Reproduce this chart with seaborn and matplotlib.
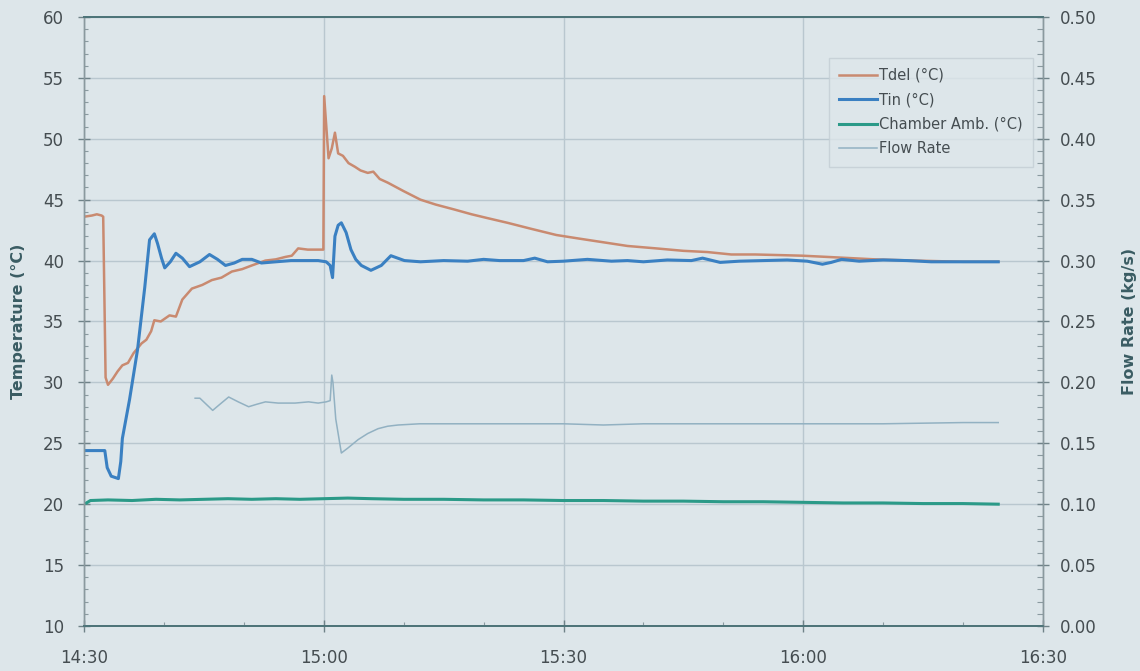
import matplotlib
matplotlib.use("Agg")
import matplotlib.pyplot as plt
from matplotlib.ticker import MultipleLocator, FixedLocator, FormatStrFormatter
import seaborn as sns

# Time axis: minutes after 14:30
tick_minutes = [0, 30, 60, 90, 120]
tick_labels = ["14:30", "15:00", "15:30", "16:00", "16:30"]

# Delivered temperature (°C)
tdel_min = [0.0, 1.0, 1.6, 2.2, 2.4, 2.7, 3.0, 3.6, 4.2, 4.8, 5.5, 6.2, 7.2, 7.8,
            8.4, 8.8, 9.6, 10.7, 11.5, 12.3, 13.5, 14.8, 16.0, 17.2, 18.5, 19.8,
            21.0, 22.7, 24.0, 25.2, 26.0, 26.8, 28.0, 29.95, 30.05, 30.6, 31.0,
            31.4, 31.8, 32.4, 33.1, 33.9, 34.6, 35.5, 36.2, 37.0, 38.0, 40.0,
            42.1, 44.0, 46.3, 48.5, 50.4, 53.0, 56.0, 59.1, 62.0, 65.0, 68.0,
            71.6, 75.0, 78.0, 81.0, 84.0, 87.0, 89.9, 93.0, 96.0, 99.0, 101.4,
            104.0, 107.0, 110.0, 114.4]
tdel = [43.6, 43.7, 43.8, 43.7, 43.6, 30.4, 29.8, 30.3, 30.9, 31.4, 31.6, 32.4,
        33.2, 33.5, 34.2, 35.1, 35.0, 35.5, 35.4, 36.8, 37.7, 38.0, 38.4, 38.6,
        39.1, 39.3, 39.6, 40.0, 40.1, 40.3, 40.4, 41.0, 40.9, 40.9, 53.5, 48.4,
        49.2, 50.5, 48.8, 48.6, 48.0, 47.7, 47.4, 47.2, 47.3, 46.7, 46.4, 45.7,
        45.0, 44.6, 44.2, 43.8, 43.5, 43.1, 42.6, 42.1, 41.8, 41.5, 41.2, 41.0,
        40.8, 40.7, 40.5, 40.5, 40.45, 40.4, 40.3, 40.2, 40.1, 40.05, 40.0,
        39.95, 39.9, 39.9]

# Inlet temperature (°C)
tin_min = [0.0, 1.5, 2.6, 2.9, 3.4, 4.3, 4.6, 4.8, 5.7, 6.7, 7.6, 8.2, 8.8, 9.2,
           9.7, 10.1, 10.8, 11.5, 12.3, 13.2, 14.5, 15.7, 16.7, 17.7, 18.8,
           19.8, 21.0, 22.2, 24.0, 25.9, 27.5, 29.3, 30.3, 30.8, 31.1, 31.4,
           31.8, 32.2, 32.8, 33.4, 34.0, 34.7, 35.9, 37.2, 38.4, 40.1, 42.1,
           45.0, 48.0, 50.0, 52.0, 55.0, 56.4, 58.0, 60.0, 63.0, 66.0, 68.0,
           70.0, 73.0, 76.0, 77.4, 79.6, 82.0, 85.0, 88.0, 90.5, 92.4, 93.5,
           94.8, 97.0, 100.0, 103.0, 106.0, 110.0, 114.4]
tin = [24.4, 24.4, 24.4, 23.0, 22.3, 22.1, 23.5, 25.4, 28.6, 32.7, 37.8, 41.7,
       42.2, 41.4, 40.2, 39.4, 39.9, 40.6, 40.2, 39.5, 39.9, 40.5, 40.1, 39.6,
       39.8, 40.1, 40.1, 39.8, 39.9, 40.0, 40.0, 40.0, 39.9, 39.6, 38.6, 42.0,
       42.9, 43.1, 42.3, 40.9, 40.1, 39.6, 39.2, 39.6, 40.4, 40.0, 39.9, 40.0,
       39.95, 40.1, 40.0, 40.0, 40.2, 39.9, 39.95, 40.1, 39.95, 40.0, 39.9,
       40.05, 40.0, 40.2, 39.85, 39.95, 40.0, 40.05, 39.95, 39.7, 39.85, 40.1,
       39.95, 40.05, 40.0, 39.9, 39.9, 39.9]

# Chamber ambient temperature (°C)
ch_min = [0.3, 0.8, 3, 6, 9, 12, 15, 18, 21, 24, 27, 30, 33, 36, 40, 45, 50, 55,
          60, 65, 70, 75, 80, 85, 90, 95, 100, 105, 110, 114.4]
ch = [20.1, 20.3, 20.35, 20.3, 20.4, 20.35, 20.4, 20.45, 20.4, 20.45, 20.4,
      20.45, 20.5, 20.45, 20.4, 20.4, 20.35, 20.35, 20.3, 20.3, 20.25, 20.25,
      20.2, 20.2, 20.15, 20.1, 20.1, 20.05, 20.05, 20.0]

# Flow rate (kg/s)
fl_min = [13.9, 14.5, 15.3, 16.1, 17.0, 18.1, 19.3, 20.6, 21.6, 22.7, 24.3,
          26.4, 28.1, 29.3, 30.3, 30.8, 31.0, 31.15, 31.5, 32.2, 33.0, 34.3,
          35.5, 36.8, 38.0, 39.3, 42.0, 48.0, 55.0, 60.0, 65.0, 70.0, 80.0,
          90.0, 100.0, 110.0, 114.4]
fl = [0.187, 0.187, 0.182, 0.177, 0.182, 0.188, 0.184, 0.180, 0.182, 0.184,
      0.183, 0.183, 0.184, 0.183, 0.184, 0.185, 0.206, 0.200, 0.170, 0.142,
      0.146, 0.153, 0.158, 0.162, 0.164, 0.165, 0.166, 0.166, 0.166, 0.166,
      0.165, 0.166, 0.166, 0.166, 0.166, 0.167, 0.167]

BG = "#dde6ea"
TXT = "#454d51"
LBL = "#3a5c63"
GRID = "#b9c7cf"

plt.rcParams["font.family"] = ["DejaVu Sans"]

fig = plt.figure(figsize=(11.4, 6.71), dpi=100, facecolor=BG)
ax = fig.add_axes([0.0737, 0.0671, 0.8412, 0.9076])
ax.set_facecolor(BG)
ax2 = ax.twinx()

sns.lineplot(x=tdel_min, y=tdel, ax=ax, color="#c98a70", lw=1.8,
             label="Tdel (°C)")
sns.lineplot(x=tin_min, y=tin, ax=ax, color="#3a80c2", lw=2.2,
             label="Tin (°C)")
sns.lineplot(x=ch_min, y=ch, ax=ax, color="#2b9a88", lw=2.2,
             label="Chamber Amb. (°C)")
sns.lineplot(x=fl_min, y=fl, ax=ax2, color="#92b1c2", lw=1.1,
             label="Flow Rate")

ax.set_xlim(0, 120)
ax.set_ylim(10, 60)
ax2.set_ylim(0, 0.5)

ax.xaxis.set_major_locator(FixedLocator(tick_minutes))
ax.set_xticklabels(tick_labels)
ax.xaxis.set_minor_locator(MultipleLocator(10))
ax.yaxis.set_major_locator(MultipleLocator(5))
ax.yaxis.set_minor_locator(MultipleLocator(1))
ax2.yaxis.set_major_locator(MultipleLocator(0.05))
ax2.yaxis.set_minor_locator(MultipleLocator(0.01))
ax2.yaxis.set_major_formatter(FormatStrFormatter("%.2f"))

ax.grid(True, which="major", color=GRID, lw=1.0)
ax.set_axisbelow(True)

ax.tick_params(axis="both", which="major", direction="inout", length=9,
               width=1, color="#6f8288", labelsize=12, labelcolor=TXT)
ax.tick_params(axis="both", which="minor", direction="in", length=3,
               width=0.8, color="#8a9aa0")
ax.tick_params(axis="x", which="major", pad=12)
ax.tick_params(axis="y", which="major", pad=10)
ax2.tick_params(axis="y", which="major", direction="inout", length=9,
                width=1, color="#6f8288", labelsize=12, labelcolor=TXT, pad=8)
ax2.tick_params(axis="y", which="minor", direction="in", length=4,
                width=0.8, color="#8a9aa0")

for a in (ax, ax2):
    for side in ("top", "bottom"):
        a.spines[side].set_color("#4d7479")
        a.spines[side].set_linewidth(1.3)
    for side in ("left", "right"):
        a.spines[side].set_color("#8a999e")
        a.spines[side].set_linewidth(1.0)

ax.set_xlabel("")
ax.set_ylabel("Temperature (°C)", fontsize=11.5, fontweight="bold",
              color=LBL, labelpad=12)
ax2.set_ylabel("Flow Rate (kg/s)", fontsize=11.5, fontweight="bold",
               color=LBL, rotation=90, labelpad=18)

h1, l1 = ax.get_legend_handles_labels()
h2, l2 = ax2.get_legend_handles_labels()
if ax.get_legend() is not None:
    ax.get_legend().remove()
if ax2.get_legend() is not None:
    ax2.get_legend().remove()
leg = ax2.legend(h1 + h2, l1 + l2, loc="upper right",
                 bbox_to_anchor=(0.997, 0.945), fontsize=10.5, frameon=True,
                 fancybox=False, handlelength=2.6, handletextpad=0.15,
                 labelspacing=0.65, borderpad=0.7, labelcolor=TXT)
leg.get_frame().set_facecolor(BG)
leg.get_frame().set_edgecolor("#c3ced4")
leg.get_frame().set_linewidth(1.0)

fig.savefig("out.png", dpi=100, facecolor=BG)
